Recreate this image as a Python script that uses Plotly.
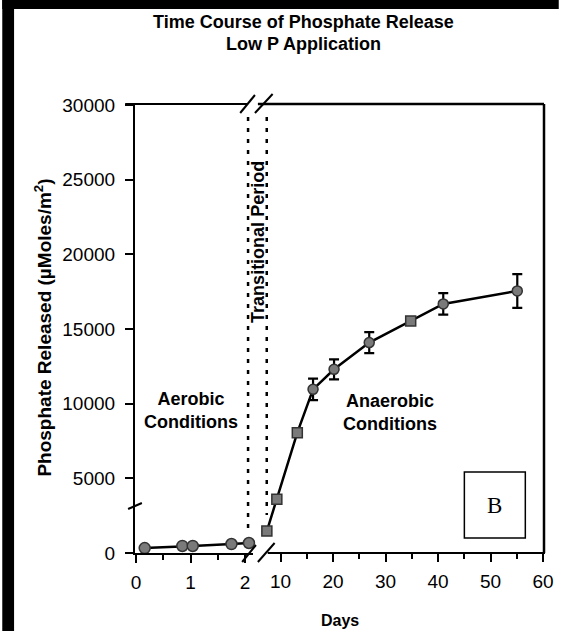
import plotly.graph_objects as go

# ---------------- data ----------------
aerobic_days = [0.16, 0.85, 1.04, 1.75, 2.07]
aerobic_p = [330, 470, 470, 600, 670]

anaerobic_days = [7.4, 9.3, 13.2, 16.2, 20.2, 26.9, 34.8, 41.0, 55.1]
anaerobic_p = [1470, 3600, 8060, 10960, 12300, 14090, 15540, 16680, 17550]
anaerobic_err = [0, 0, 0, 720, 670, 700, 0, 720, 1130]
anaerobic_symbol = ["square", "square", "square", "circle", "circle", "circle",
                    "square", "circle", "circle"]

left_ticks = [0, 1, 2]
right_ticks = [10, 20, 30, 40, 50, 60]
y_ticks = [0, 5000, 10000, 15000, 20000, 25000, 30000]

title_lines = ["Time Course of Phosphate Release", "Low P Application"]
y_title = "Phosphate Released (µMoles/m<sup>2</sup>)"
x_title = "Days"

# ---------------- geometry ----------------
WIDTH, HEIGHT = 566, 631
L, R, T, Bm = 135, 15, 105, 78
PW = WIDTH - L - R
PH = HEIGHT - T - Bm
BOT = HEIGHT - Bm


def px(x):
    return (x - L) / PW


def py(y):
    return (BOT - y) / PH


FONT = "Liberation Sans, Arial, Helvetica, sans-serif"

fig = go.Figure()

fig.add_trace(go.Scatter(
    x=aerobic_days, y=aerobic_p, xaxis="x", yaxis="y",
    mode="lines+markers",
    line=dict(color="black", width=2.5),
    marker=dict(symbol="circle", size=11, color="#7a7a7a",
                line=dict(color="#333333", width=1.5)),
    cliponaxis=False, showlegend=False,
))

fig.add_trace(go.Scatter(
    x=anaerobic_days, y=anaerobic_p, xaxis="x2", yaxis="y",
    mode="lines+markers",
    line=dict(color="black", width=2.5),
    marker=dict(symbol=anaerobic_symbol, size=10, color="#7a7a7a",
                line=dict(color="#333333", width=1.5)),
    error_y=dict(type="data", array=anaerobic_err, visible=True,
                 color="black", thickness=2.2, width=5),
    cliponaxis=False, showlegend=False,
))

axis_common = dict(
    linecolor="black", linewidth=2.2,
    ticks="outside", ticklen=8, tickwidth=2, tickcolor="black",
    showgrid=False, zeroline=False,
    tickfont=dict(family=FONT, size=19, color="black"),
)

X2_START = 262  # pixel where the right-hand x axis domain begins
fig.update_layout(
    width=WIDTH, height=HEIGHT,
    margin=dict(l=L, r=R, t=T, b=Bm, pad=0),
    paper_bgcolor="white", plot_bgcolor="white",
    showlegend=False,
    xaxis=dict(domain=[0, px(255)], range=[-0.018, 2.144],
               tickvals=left_ticks, ticktext=[str(v) for v in left_ticks],
               anchor="y", showline=True,
               minor=dict(tickvals=[0.5, 1.5], ticks="outside", ticklen=5,
                          tickwidth=2, tickcolor="black"),
               ticklabelstandoff=3,
               **axis_common),
    xaxis2=dict(domain=[px(X2_START), 1],
                range=[10 - (283 - X2_START) / 5.34, 60.19],
                tickvals=right_ticks, ticktext=[str(v) for v in right_ticks],
                anchor="y", showline=False,
                minor=dict(tickvals=[15, 25, 35, 45, 55], ticks="outside",
                           ticklen=5, tickwidth=2, tickcolor="black"),
                ticklabelstandoff=3,
                **axis_common),
    yaxis=dict(range=[0, 30000], tickvals=y_ticks,
               ticktext=[str(v) for v in y_ticks], anchor="x", showline=True,
               ticklabelstandoff=6, **axis_common),
)

shapes = []


def seg(x0, y0, x1, y1, width=2, dash=None, color="black"):
    line = dict(color=color, width=width)
    if dash:
        line["dash"] = dash
    shapes.append(dict(type="line", xref="paper", yref="paper",
                       x0=px(x0), y0=py(y0), x1=px(x1), y1=py(y1), line=line))


# black scan frame strips
shapes.append(dict(type="rect", xref="paper", yref="paper",
                   x0=px(0), x1=px(12), y0=py(HEIGHT), y1=py(0),
                   fillcolor="black", line=dict(width=0)))
shapes.append(dict(type="rect", xref="paper", yref="paper",
                   x0=px(0), x1=px(WIDTH), y0=py(9), y1=py(0),
                   fillcolor="black", line=dict(width=0)))

# right-hand x axis line
seg(270, 553, 552, 553, 2.2)
# top and right frame
seg(125, 104, 250, 104, 2)
seg(260, 104, 551, 104, 2.5)
seg(551, 104, 551, 553, 2.5)
# top break slashes
seg(242, 113, 257, 95, 2)
seg(257, 113, 275, 94, 2)
# bottom break slashes
seg(244, 562, 258, 545, 2)
seg(260, 562, 277, 543, 2)
# y axis break
seg(128, 509, 142, 503, 2)
# transitional period dotted lines
seg(250, 117, 250, 528, 2.5, "4px,7px")
seg(269, 117, 269, 515, 2.5, "4px,7px")
# B box
shapes.append(dict(type="rect", xref="paper", yref="paper",
                   x0=px(470), x1=px(532), y0=py(538), y1=py(472),
                   fillcolor="white", line=dict(color="black", width=1.5)))

annotations = []


def txt(x, y, text, size=17, bold=True, angle=0, family=FONT):
    t = f"<b>{text}</b>" if bold else text
    annotations.append(dict(xref="paper", yref="paper", x=px(x), y=py(y),
                            text=t, showarrow=False, textangle=angle,
                            xanchor="center", yanchor="middle",
                            font=dict(family=family, size=size, color="black")))


txt(306, 22, title_lines[0], 18)
txt(306, 44, title_lines[1], 18)
txt(192, 410, "Aerobic<br>Conditions", 18)
txt(394, 412, "Anaerobic<br>Conditions", 18)
txt(260, 242, "Transitional Period", 18, angle=-90)
txt(501, 505, "B", 23, bold=False, family="Liberation Serif, Times New Roman, serif")
txt(41, 328, y_title, 19, angle=-90)
txt(343, 620, x_title, 16)

fig.update_layout(shapes=shapes, annotations=annotations)

fig.write_html(
    "out.html",
    config={"displayModeBar": False},
    post_script="document.body.style.margin='0';document.body.style.overflow='hidden';",
)
